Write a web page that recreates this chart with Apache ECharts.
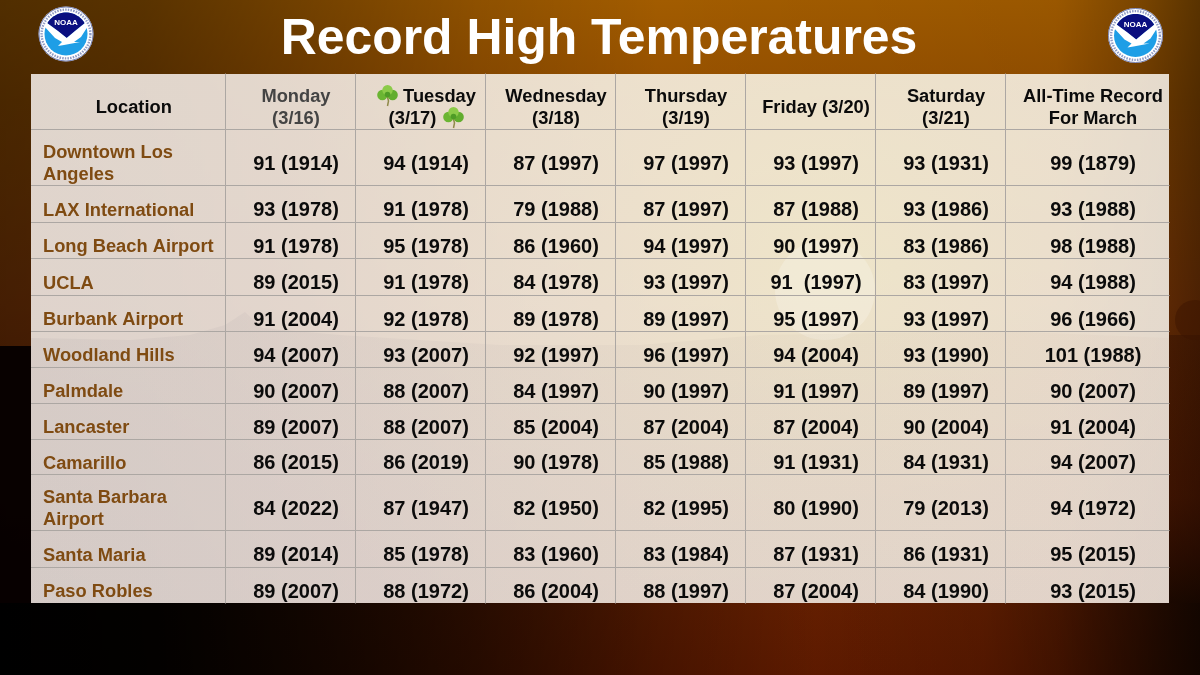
<!DOCTYPE html>
<html>
<head>
<meta charset="utf-8">
<title>Record High Temperatures</title>
<script src="https://cdn.jsdelivr.net/npm/echarts@6/dist/echarts.min.js"></script>
<style>
  html, body { margin: 0; padding: 0; background: #000; }
  #chart { width: 1200px; height: 675px; }
</style>
</head>
<body>
<div id="chart"></div>
<script>
// Table data, one list per column
const titleText = 'Record High Temperatures'
const headers = ['Location', 'Monday\n(3/16)', 'Tuesday\n(3/17)', 'Wednesday\n(3/18)', 'Thursday\n(3/19)',
  'Friday (3/20)', 'Saturday\n(3/21)', 'All-Time Record\nFor March']
const locations = ['Downtown Los\nAngeles', 'LAX International', 'Long Beach Airport', 'UCLA', 'Burbank Airport',
  'Woodland Hills', 'Palmdale', 'Lancaster', 'Camarillo', 'Santa Barbara\nAirport', 'Santa Maria', 'Paso Robles']
const monday = ['91 (1914)', '93 (1978)', '91 (1978)', '89 (2015)', '91 (2004)', '94 (2007)', '90 (2007)', '89 (2007)', '86 (2015)', '84 (2022)', '89 (2014)', '89 (2007)']
const tuesday = ['94 (1914)', '91 (1978)', '95 (1978)', '91 (1978)', '92 (1978)', '93 (2007)', '88 (2007)', '88 (2007)', '86 (2019)', '87 (1947)', '85 (1978)', '88 (1972)']
const wednesday = ['87 (1997)', '79 (1988)', '86 (1960)', '84 (1978)', '89 (1978)', '92 (1997)', '84 (1997)', '85 (2004)', '90 (1978)', '82 (1950)', '83 (1960)', '86 (2004)']
const thursday = ['97 (1997)', '87 (1997)', '94 (1997)', '93 (1997)', '89 (1997)', '96 (1997)', '90 (1997)', '87 (2004)', '85 (1988)', '82 (1995)', '83 (1984)', '88 (1997)']
const friday = ['93 (1997)', '87 (1988)', '90 (1997)', '91  (1997)', '95 (1997)', '94 (2004)', '91 (1997)', '87 (2004)', '91 (1931)', '80 (1990)', '87 (1931)', '87 (2004)']
const saturday = ['93 (1931)', '93 (1986)', '83 (1986)', '83 (1997)', '93 (1997)', '93 (1990)', '89 (1997)', '90 (2004)', '84 (1931)', '79 (2013)', '86 (1931)', '84 (1990)']
const allTime = ['99 (1879)', '93 (1988)', '98 (1988)', '94 (1988)', '96 (1966)', '101 (1988)', '90 (2007)', '91 (2004)', '94 (2007)', '94 (1972)', '95 (2015)', '93 (2015)']

// Layout of the table on its axes (units are pixels of the slide)
const colEdges = [0, 194.5, 324.5, 454.5, 584.5, 714.5, 844.5, 974.5, 1138.5]
const rowEdges = [0, 56, 112, 149, 185, 222, 258, 294, 330, 366, 401, 457, 494, 530]

const FONT = '"Liberation Sans", Arial, sans-serif'
const BROWN = '#7f4b12'
const INK = '#0b0b0b'
const LINE = '#aca7a3'

const columns = [monday, tuesday, wednesday, thursday, friday, saturday, allTime]

// [col, row, text]; row 0 is the header, col 0 the location names
const cells = []
headers.forEach(function (h, c) { cells.push([c, 0, h]) })
locations.forEach(function (name, r) {
  cells.push([0, r + 1, name])
  columns.forEach(function (col, c) { cells.push([c + 1, r + 1, col[r]]) })
})

function renderCell(params, api) {
  const c = api.value(0)
  const r = api.value(1)
  const text = cells[params.dataIndex][2]
  const tl = api.coord([colEdges[c], rowEdges[r]])
  const br = api.coord([colEdges[c + 1], rowEdges[r + 1]])
  const isName = c === 0 && r > 0
  const isHeader = r === 0
  const isTuesday = c === 2 && r === 0
  const cy = (tl[1] + br[1]) / 2 + 6.5
  const children = [{
    type: 'text',
    style: {
      x: isName ? tl[0] + 12 : (tl[0] + br[0]) / 2 + 5.5,
      y: cy,
      // room is left in the Tuesday header for the two shamrocks
      text: isTuesday ? '{gap|}{plain|Tuesday}\n{plain|(3/17)}{gap|}' : text,
      align: isName ? 'left' : 'center',
      verticalAlign: 'middle',
      font: 'bold ' + (isName || isHeader ? 18.3 : 20) + 'px ' + FONT,
      lineHeight: 22,
      fill: isName ? BROWN : (c === 1 && r === 0 ? '#444444' : INK),
      rich: isTuesday ? {
        gap: { width: 27, lineHeight: 22 },
        plain: { font: 'bold 18.3px ' + FONT, fill: INK, lineHeight: 22 }
      } : undefined
    }
  }]
  // only inner rules, the panel has no outer border
  if (c < headers.length - 1) {
    children.push({
      type: 'line',
      shape: { x1: br[0], y1: tl[1], x2: br[0], y2: br[1] },
      style: { stroke: LINE, lineWidth: 1 }
    })
  }
  if (r < locations.length) {
    children.push({
      type: 'line',
      shape: { x1: tl[0], y1: br[1], x2: br[0], y2: br[1] },
      style: { stroke: LINE, lineWidth: 1 }
    })
  }
  return { type: 'group', children: children }
}

// Small drawn decorations: shamrock and NOAA emblem
function shamrock(x, y) {
  const leaf = function (dx, dy, r, fill) {
    return { type: 'circle', shape: { cx: dx, cy: dy, r: r }, style: { fill: fill } }
  }
  return {
    type: 'group', x: x, y: y, z: 20, silent: true,
    children: [
      { type: 'polyline', shape: { points: [[10, 10], [11.5, 16], [10.5, 21]] }, style: { fill: 'none', stroke: '#8f8a4a', lineWidth: 1.5 } },
      leaf(5.4, 10, 5.2, '#6bb533'), leaf(15.6, 10, 5.2, '#62ad2e'), leaf(10.5, 5.2, 5.2, '#8ccb48'),
      leaf(10.5, 9.5, 2.8, '#4f9c26')
    ]
  }
}

function navyPoints() {
  const pts = []
  for (let deg = 210; deg <= 330; deg += 6) {
    pts.push([21.5 * Math.cos(deg * Math.PI / 180), 21.5 * Math.sin(deg * Math.PI / 180)])
  }
  pts.push([0.7, 4])
  return pts
}

function noaaLogo(cx, cy) {
  return {
    type: 'group', x: cx, y: cy, z: 20, silent: true,
    children: [
      { type: 'circle', shape: { cx: 0, cy: 0, r: 27.5 }, style: { fill: '#ffffff' } },
      { type: 'circle', shape: { cx: 0, cy: 0, r: 27 }, style: { fill: 'none', stroke: '#3a4a96', lineWidth: 0.7 } },
      { type: 'circle', shape: { cx: 0, cy: 0, r: 24.4 }, style: { fill: 'none', stroke: '#8f9ac4', lineWidth: 2.4, lineDash: [1.5, 1.2] } },
      { type: 'circle', shape: { cx: 0, cy: 0, r: 21.5 }, style: { fill: '#1e9ee6' } },
      { type: 'polygon', shape: { points: navyPoints() }, style: { fill: '#0a0f80' } },
      { type: 'polygon', shape: { points: [[-22, -8], [-19, -11], [-8, -3], [0.7, 4], [9, -3], [19, -11], [22, -8], [15, 3], [8, 8], [14, 8], [-2, 11], [-8, 12], [-4, 8], [-11, 4]] }, style: { fill: '#ffffff' } },
      { type: 'text', style: { x: 0, y: -11, text: 'NOAA', align: 'center', verticalAlign: 'middle', font: 'bold 8px ' + FONT, fill: '#ffffff' } }
    ]
  }
}

function shade(z, fill) {
  return { type: 'rect', z: z, silent: true, shape: { x: 0, y: 0, width: 1200, height: 675 }, style: { fill: fill } }
}

const chart = echarts.init(document.getElementById('chart'))
chart.setOption({
  animation: false,
  backgroundColor: {
    type: 'linear', x: 0, y: 0, x2: 0, y2: 1,
    colorStops: [
      { offset: 0, color: '#a25c00' },
      { offset: 0.15, color: '#934e00' },
      { offset: 0.45, color: '#8a3c06' },
      { offset: 0.7, color: '#722802' },
      { offset: 1, color: '#5e1a00' }
    ]
  },
  title: {
    text: titleText,
    left: 594,
    top: 35.5,
    textAlign: 'center',
    textVerticalAlign: 'middle',
    textStyle: { color: '#ffffff', fontFamily: FONT, fontWeight: 'bold', fontSize: 49.9 }
  },
  graphic: [
    // left and right falloff of the sunset
    shade(-10, { type: 'linear', x: 0, y: 0, x2: 1, y2: 0, colorStops: [
      { offset: 0, color: 'rgba(0,0,0,0.5)' },
      { offset: 0.12, color: 'rgba(0,0,0,0.45)' },
      { offset: 0.25, color: 'rgba(0,0,0,0.3)' },
      { offset: 0.4, color: 'rgba(0,0,0,0.12)' },
      { offset: 0.55, color: 'rgba(0,0,0,0)' },
      { offset: 0.88, color: 'rgba(0,0,0,0.05)' },
      { offset: 0.95, color: 'rgba(0,0,0,0.25)' },
      { offset: 1, color: 'rgba(0,0,0,0.45)' }
    ] }),
    // band below the table goes to black on both sides
    { type: 'rect', z: -9, silent: true, shape: { x: 0, y: 603, width: 1200, height: 72 },
      style: { fill: { type: 'linear', x: 0, y: 0, x2: 1, y2: 0, colorStops: [
        { offset: 0, color: 'rgba(0,0,0,1)' },
        { offset: 0.13, color: 'rgba(0,0,0,0.95)' },
        { offset: 0.4, color: 'rgba(0,0,0,0.55)' },
        { offset: 0.68, color: 'rgba(0,0,0,0)' },
        { offset: 0.82, color: 'rgba(0,0,0,0.1)' },
        { offset: 0.95, color: 'rgba(0,0,0,0.5)' },
        { offset: 1, color: 'rgba(0,0,0,0.65)' }
      ] } } },
    // tree line left of the table, darker trees to its right
    { type: 'rect', z: -8, silent: true, shape: { x: 0, y: 346, width: 31, height: 257 }, style: { fill: 'rgba(5,0,0,0.95)' } },
    { type: 'rect', z: -8, silent: true, shape: { x: 1169, y: 335, width: 31, height: 268 },
      style: { fill: { type: 'linear', x: 0, y: 0, x2: 0, y2: 1, colorStops: [
        { offset: 0, color: 'rgba(30,5,0,0.3)' },
        { offset: 0.6, color: 'rgba(30,5,0,0.3)' },
        { offset: 1, color: 'rgba(0,0,0,0.6)' }
      ] } } },
    { type: 'circle', z: -8, silent: true, shape: { cx: 1195, cy: 320, r: 20 }, style: { fill: 'rgba(60,20,0,0.5)' } },
    // table panel
    { type: 'rect', z: -5, silent: true, shape: { x: 31, y: 74, width: 1138, height: 529 },
      style: { fill: 'rgba(255,255,255,0.82)' } },
    // the picture showing faintly through the panel: warm glow, sun, hills
    { type: 'rect', z: -4, silent: true, shape: { x: 31, y: 74, width: 1138, height: 529 },
      style: { fill: { type: 'radial', x: 830, y: 270, r: 560, global: true, colorStops: [
        { offset: 0, color: 'rgba(245,242,190,0.42)' },
        { offset: 0.5, color: 'rgba(240,228,190,0.22)' },
        { offset: 1, color: 'rgba(230,203,185,0.2)' }
      ] } } },
    { type: 'circle', z: -4, silent: true, shape: { cx: 825, cy: 290, r: 50 }, style: { fill: 'rgba(255,255,255,0.22)' } },
    { type: 'polygon', z: -4, silent: true,
      shape: { points: [[31, 338], [130, 340], [190, 335], [225, 325], [245, 312], [262, 328], [340, 335], [500, 345], [640, 345], [760, 335], [1000, 331], [1169, 338], [1169, 603], [31, 603]] },
      style: { fill: { type: 'linear', x: 0, y: 0, x2: 1, y2: 0, colorStops: [
        { offset: 0, color: 'rgba(120,115,130,0.08)' },
        { offset: 0.4, color: 'rgba(120,115,130,0.05)' },
        { offset: 1, color: 'rgba(200,160,140,0.06)' }
      ] } } },
    noaaLogo(66, 34),
    noaaLogo(1135.5, 35.5),
    shamrock(377, 85),
    shamrock(443, 107)
  ],
  grid: { left: 31, top: 73.5, width: 1138.5, height: 530 },
  xAxis: { type: 'value', min: 0, max: 1138.5, show: false },
  yAxis: { type: 'value', min: 0, max: 530, inverse: true, show: false },
  series: [{
    type: 'custom',
    coordinateSystem: 'cartesian2d',
    renderItem: renderCell,
    clip: false,
    encode: { x: 0, y: 1 },
    data: cells.map(function (d) { return [d[0], d[1]] })
  }]
})
</script>
</body>
</html>
